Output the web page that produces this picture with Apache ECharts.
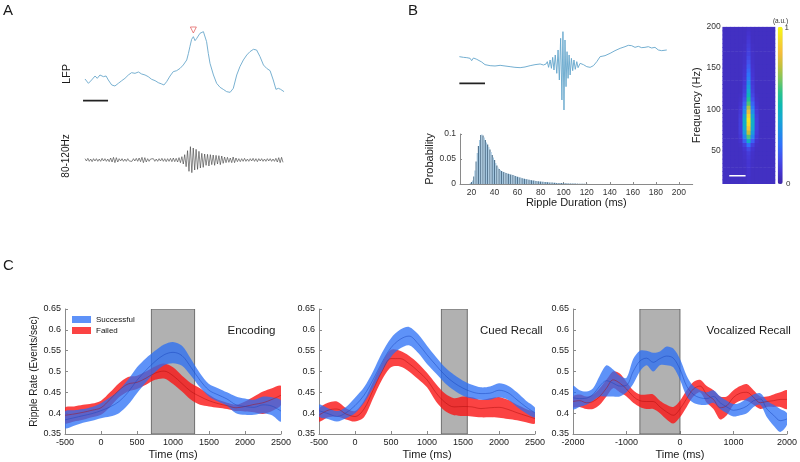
<!DOCTYPE html>
<html>
<head>
<meta charset="utf-8">
<script src="https://cdn.jsdelivr.net/npm/echarts/dist/echarts.min.js"></script>
<style>html,body{margin:0;padding:0;background:#fff}#chart{width:800px;height:462px}</style>
</head>
<body>
<div id="chart"></div>
<script>
// ---------------- Panel A ----------------
const lfpT = [0,14,27,41,50,61,75,86,95,109,122,136,150,163,177,190,204,218,231,245,258,272,286,299,313,322,333,347,360,374,388,401,415,422,428,435,442,449,456,462,469,476,483,490,496,503,510,524,537,551,564,578,592,605,619,632,646,660,673,687,694,700,714,728,741,755,768,779,789,798,812];
const lfpV = [43,30,40,52,45,55,50,52,40,25,22,30,38,45,55,62,60,64,58,55,50,42,38,32,28,25,35,52,65,68,75,85,100,120,140,162,170,158,165,172,180,182,185,180,155,120,90,55,30,18,12,5,3,15,55,80,100,115,125,132,138,130,110,85,75,68,40,12,15,12,5];
const rippleMarkT = [442];
const rippleMarkV = [190];
const scaleBarA_T = [-8, 94];
const scaleBarA_V = -22;
const filtV = [4,-3,5,-4,3,-5,4,-3,4,-4,
  3,-4,5,-3,4,-4,3,-5,6,-6,
  8,-8,7,-6,4,-3,4,-4,3,-4,
  4,-3,3,-4,4,-3,5,-4,6,-5,
  8,-8,7,-6,4,-4,3,-3,4,-4,
  3,-4,4,-3,5,-4,4,-5,4,-4,
  5,-5,6,-5,5,-6,7,-8,10,-12,
  16,-20,28,-34,40,-38,36,-30,32,-28,
  26,-24,20,-22,18,-16,17,-18,16,-14,
  15,-16,14,-12,13,-14,12,-10,9,-8,
  8,-7,6,-8,9,-8,6,-5,4,-5,
  4,-4,5,-4,3,-4,4,-3,5,-4,
  4,-5,4,-3,4,-4,3,-4,4,-3,
  4,-4,3,-4,5,-6,7,-8,8,-7];

// ---------------- Panel B ----------------
const trBT = [0,16,29,42,48,55,68,87,100,120,139,159,178,198,217,237,256,276,295,315,328,338,343,348,354,359,364,369,374,380,385,390,395,400,404,408,412,416,420,424,428,432,437,442,447,452,458,463,471,484,497,510,523,536,549,568,588,607,627,646,659,672,685,698,711,724,737,750,763,767,776,789,809];
const trBV = [30,28,27,25,18,26,22,14,6,3,2,4,2,0,-2,-3,-1,3,6,8,5,8,15,-2,20,-5,28,-10,35,-20,50,-40,85,-100,105,-130,80,-60,45,-35,35,-25,25,-12,20,-8,15,-3,10,6,0,-2,3,15,30,33,40,48,55,60,64,63,58,61,57,58,60,56,58,62,50,48,50];
const scaleBarB_T = [0, 100];
const scaleBarB_V = -50;

const histStart = 19, histBinWidth = 1;
const histP = [0.002,0.004,0.007,0.015,0.027,0.045,0.062,0.076,0.088,0.098,
  0.099,0.097,0.093,0.088,0.083,0.079,0.074,0.069,0.064,0.058,
  0.053,0.048,0.042,0.037,0.033,0.030,0.028,0.026,0.025,0.024,
  0.023,0.022,0.021,0.0205,0.020,0.019,0.0185,0.018,0.017,0.016,
  0.0152,0.0145,0.0138,0.013,0.0123,0.0117,0.011,0.0105,0.010,0.0095,
  0.009,0.0085,0.008,0.0076,0.0072,0.0068,0.0064,0.006,0.0057,0.0054,
  0.0051,0.0048,0.0046,0.0044,0.0042,0.004,0.0038,0.0036,0.0034,0.0032,
  0.003,0.0028,0.0027,0.0025,0.0024,0.0022,0.0021,0.002,0.0019,0.0018,
  0.0017,0.0016,0.0015,0.0014,0.0013,0.0012,0.0011,0.001,0.001,0.0009,
  0.0009,0.0008,0.0007,0.0007,0.0006,0.0006,0.0005,0.0005,0.0004,0.0004,
  0.0003,0.0003];
const histTicks = [20,40,60,80,100,120,140,160,180,200];

const hmTimes = [-148,-123,-98,-74,-49,-25,0,25,49,74,98,123,148];
const hmFreqs = [12.5,17.5,22.5,27.5,32.5,37.5,42.5,47.5,52.5,57.5,62.5,67.5,72.5,77.5,82.5,87.5,92.5,97.5,102.5,107.5,112.5,117.5,122.5,127.5,132.5,137.5,142.5,147.5,152.5,157.5,162.5,167.5,172.5,177.5,182.5,187.5,192.5,197.5];
const hmRows = [
 [.05,.05,.05,.05,.05,.05,.06,.05,.05,.05,.05,.05,.05],
 [.05,.05,.05,.05,.05,.05,.06,.05,.05,.05,.05,.05,.05],
 [.05,.05,.05,.05,.05,.05,.07,.05,.05,.05,.05,.05,.05],
 [.05,.05,.05,.05,.05,.05,.07,.05,.05,.05,.05,.05,.05],
 [.05,.05,.05,.05,.05,.055,.08,.055,.05,.05,.05,.05,.05],
 [.05,.05,.05,.05,.05,.055,.08,.055,.05,.05,.05,.05,.05],
 [.05,.05,.05,.05,.05,.06,.09,.06,.05,.05,.05,.05,.05],
 [.05,.05,.05,.05,.05,.065,.10,.065,.05,.05,.05,.05,.05],
 [.05,.05,.05,.05,.05,.075,.14,.075,.05,.05,.05,.05,.05],
 [.05,.05,.05,.05,.055,.11,.25,.11,.055,.05,.05,.05,.05],
 [.05,.05,.05,.05,.07,.20,.45,.20,.07,.05,.05,.05,.05],
 [.05,.05,.05,.05,.085,.30,.62,.30,.085,.05,.05,.05,.05],
 [.05,.05,.05,.05,.10,.37,.75,.37,.10,.05,.05,.05,.05],
 [.05,.05,.05,.05,.11,.42,.85,.42,.11,.05,.05,.05,.05],
 [.05,.05,.05,.05,.11,.44,.92,.44,.11,.05,.05,.05,.05],
 [.05,.05,.05,.05,.11,.44,.94,.44,.11,.05,.05,.05,.05],
 [.05,.05,.05,.05,.10,.40,.90,.40,.10,.05,.05,.05,.05],
 [.05,.05,.05,.05,.09,.33,.82,.33,.09,.05,.05,.05,.05],
 [.05,.05,.05,.05,.08,.27,.72,.27,.08,.05,.05,.05,.05],
 [.05,.05,.05,.05,.07,.21,.62,.21,.07,.05,.05,.05,.05],
 [.05,.05,.05,.05,.06,.16,.55,.16,.06,.05,.05,.05,.05],
 [.05,.05,.05,.05,.055,.13,.48,.13,.055,.05,.05,.05,.05],
 [.05,.05,.05,.05,.05,.11,.42,.11,.05,.05,.05,.05,.05],
 [.05,.05,.05,.05,.05,.10,.37,.10,.05,.05,.05,.05,.05],
 [.05,.05,.05,.05,.05,.09,.32,.09,.05,.05,.05,.05,.05],
 [.05,.05,.05,.05,.05,.085,.28,.085,.05,.05,.05,.05,.05],
 [.05,.05,.05,.05,.05,.08,.25,.08,.05,.05,.05,.05,.05],
 [.05,.05,.05,.05,.05,.075,.22,.075,.05,.05,.05,.05,.05],
 [.05,.05,.05,.05,.05,.07,.19,.07,.05,.05,.05,.05,.05],
 [.05,.05,.05,.05,.05,.065,.16,.065,.05,.05,.05,.05,.05],
 [.05,.05,.05,.05,.05,.06,.14,.06,.05,.05,.05,.05,.05],
 [.05,.05,.05,.05,.05,.06,.12,.06,.05,.05,.05,.05,.05],
 [.05,.05,.05,.05,.05,.055,.11,.055,.05,.05,.05,.05,.05],
 [.05,.05,.05,.05,.05,.055,.10,.055,.05,.05,.05,.05,.05],
 [.05,.05,.05,.05,.05,.05,.09,.05,.05,.05,.05,.05,.05],
 [.05,.05,.05,.05,.05,.05,.08,.05,.05,.05,.05,.05,.05],
 [.05,.05,.05,.05,.05,.05,.07,.05,.05,.05,.05,.05,.05],
 [.05,.05,.05,.05,.05,.05,.06,.05,.05,.05,.05,.05,.05]
];
const hmFreqTicks = [50,100,150,200];
const hmScaleBarT = [-120, -20];
const hmScaleBarF = 20;
const colorbarLabels = ['1', '0', '(a.u.)'];

// ---------------- Panel C ----------------
const tC12 = [-500,-375,-250,-125,0,125,250,375,500,625,750,875,1000,1125,1250,1375,1500,1625,1750,1875,2000,2125,2250,2375,2500];
const encSucUp   = [0.404,0.407,0.41,0.415,0.424,0.438,0.455,0.48,0.51,0.532,0.55,0.565,0.571,0.562,0.53,0.496,0.47,0.46,0.45,0.44,0.435,0.432,0.44,0.438,0.43];
const encSucLo   = [0.364,0.37,0.377,0.382,0.388,0.392,0.40,0.42,0.448,0.474,0.498,0.515,0.52,0.514,0.49,0.462,0.44,0.428,0.418,0.40,0.396,0.396,0.40,0.395,0.38];
const encSucMean = [0.384,0.389,0.394,0.399,0.406,0.415,0.428,0.45,0.479,0.503,0.524,0.54,0.546,0.538,0.51,0.479,0.455,0.444,0.434,0.42,0.416,0.414,0.42,0.417,0.405];
const encFailUp  = [0.413,0.416,0.42,0.423,0.43,0.45,0.472,0.487,0.49,0.50,0.512,0.519,0.51,0.49,0.472,0.46,0.444,0.432,0.425,0.42,0.428,0.44,0.452,0.46,0.465];
const encFailLo  = [0.376,0.38,0.384,0.39,0.396,0.415,0.438,0.452,0.458,0.468,0.48,0.483,0.47,0.452,0.432,0.42,0.416,0.413,0.41,0.405,0.404,0.402,0.398,0.405,0.42];
const encFailMean= [0.395,0.398,0.402,0.407,0.413,0.433,0.455,0.47,0.474,0.484,0.496,0.501,0.49,0.471,0.452,0.44,0.43,0.423,0.418,0.413,0.416,0.421,0.425,0.433,0.443];

const cueSucUp   = [0.42,0.412,0.405,0.415,0.437,0.462,0.50,0.545,0.58,0.60,0.607,0.59,0.562,0.535,0.51,0.492,0.478,0.468,0.462,0.464,0.472,0.466,0.45,0.43,0.413];
const cueSucLo   = [0.392,0.386,0.38,0.388,0.40,0.425,0.46,0.50,0.535,0.555,0.563,0.545,0.518,0.495,0.472,0.455,0.442,0.435,0.432,0.432,0.438,0.432,0.415,0.40,0.39];
const cueSucMean = [0.406,0.399,0.392,0.401,0.418,0.443,0.48,0.522,0.557,0.577,0.585,0.567,0.54,0.515,0.491,0.473,0.46,0.451,0.447,0.448,0.455,0.449,0.432,0.415,0.401];
const cueFailUp  = [0.41,0.425,0.428,0.412,0.405,0.43,0.475,0.52,0.552,0.55,0.538,0.52,0.497,0.47,0.447,0.436,0.44,0.438,0.432,0.436,0.439,0.432,0.42,0.41,0.40];
const cueFailLo  = [0.38,0.39,0.392,0.385,0.38,0.39,0.435,0.48,0.51,0.512,0.50,0.482,0.462,0.428,0.405,0.395,0.393,0.392,0.39,0.39,0.389,0.386,0.383,0.378,0.375];
const cueFailMean= [0.395,0.407,0.41,0.398,0.392,0.41,0.455,0.5,0.531,0.531,0.519,0.501,0.48,0.449,0.426,0.415,0.416,0.415,0.411,0.413,0.414,0.409,0.401,0.394,0.387];

const tC3 = [-2000,-1875,-1750,-1625,-1500,-1375,-1250,-1125,-1000,-875,-750,-625,-500,-375,-250,-125,0,125,250,375,500,625,750,875,1000,1125,1250,1375,1500,1625,1750,1875,2000];
const vocSucUp   = [0.465,0.455,0.452,0.46,0.49,0.515,0.505,0.49,0.485,0.53,0.55,0.55,0.545,0.548,0.56,0.555,0.53,0.49,0.465,0.455,0.45,0.455,0.44,0.43,0.422,0.425,0.435,0.445,0.448,0.43,0.42,0.41,0.40];
const vocSucLo   = [0.41,0.415,0.42,0.43,0.44,0.44,0.44,0.44,0.45,0.47,0.50,0.515,0.50,0.515,0.515,0.51,0.48,0.44,0.425,0.42,0.42,0.425,0.41,0.40,0.392,0.395,0.40,0.415,0.42,0.39,0.37,0.355,0.372];
const vocSucMean = [0.437,0.435,0.436,0.445,0.465,0.478,0.472,0.465,0.467,0.5,0.525,0.532,0.522,0.531,0.537,0.532,0.505,0.465,0.445,0.437,0.435,0.44,0.425,0.415,0.407,0.41,0.417,0.43,0.434,0.41,0.395,0.382,0.386];
const vocFailUp  = [0.44,0.445,0.44,0.445,0.46,0.48,0.50,0.495,0.475,0.455,0.445,0.445,0.445,0.43,0.42,0.415,0.43,0.455,0.475,0.48,0.465,0.455,0.44,0.44,0.455,0.465,0.47,0.455,0.44,0.44,0.445,0.45,0.455];
const vocFailLo  = [0.415,0.415,0.41,0.41,0.42,0.44,0.46,0.45,0.44,0.425,0.415,0.41,0.41,0.40,0.385,0.375,0.39,0.415,0.44,0.45,0.425,0.41,0.385,0.395,0.42,0.43,0.43,0.42,0.41,0.415,0.415,0.415,0.41];
const vocFailMean= [0.428,0.43,0.425,0.428,0.44,0.46,0.48,0.472,0.458,0.44,0.43,0.428,0.428,0.415,0.403,0.395,0.41,0.435,0.458,0.465,0.445,0.433,0.413,0.418,0.438,0.448,0.45,0.438,0.425,0.428,0.43,0.433,0.433];

const eventWindows = [[700,1300],[1200,1560],[-750,0]];
const condTitles = ['Encoding','Cued Recall','Vocalized Recall'];
const legendNames = ['Successful','Failed'];
const rateRange = [0.35, 0.65];

// ---------------- build ----------------
const FONT = '"Liberation Sans", Arial, Helvetica, sans-serif';
const axisCol = '#8a8a8a';
const txtCol = '#1a1a1a';
const BLUE = 'rgba(40,110,245,0.75)';
const RED = 'rgba(250,20,20,0.8)';
const BLUE_LINE = 'rgba(25,70,190,0.7)';
const RED_LINE = 'rgba(170,10,10,0.65)';
const parula = ['#3e26a8','#4536d4','#4352ef','#2f72fb','#1e90e8','#14a9d2','#0cbab2','#2cc38a','#7ec65e','#c4c13c','#f6bd3a','#f5da2b','#f9fb0e'];
const plain = v => String(v);

const grids = [
  {left:80.1, top:28.33, width:205.9, height:75},
  {left:85, top:140, width:198, height:40},
  {left:456.8, top:30, width:212.8, height:83.33},
  {left:460, top:134, width:232.7, height:50},
  {left:722.7, top:26.7, width:52.3, height:157.3},
  {left:65, top:309, width:216, height:125},
  {left:319, top:309, width:216, height:125},
  {left:573, top:309, width:215, height:125}
];

function hid(gi, type, min, max) {
  return {type, gridIndex:gi, min, max, show:false, splitLine:{show:false}};
}
function cX(gi, min, max, interval) {
  return {type:'value', gridIndex:gi, min, max, interval,
    axisLine:{show:true, onZero:false, lineStyle:{color:axisCol, width:1}},
    axisTick:{show:true, inside:true, length:3, lineStyle:{color:axisCol}},
    axisLabel:{fontSize:9, color:txtCol, margin:4, fontFamily:FONT, formatter:plain},
    splitLine:{show:false},
    name:'Time (ms)', nameLocation:'middle', nameGap:15,
    nameTextStyle:{fontSize:11, color:txtCol, fontFamily:FONT}};
}
function cY(gi, withName) {
  const a = {type:'value', gridIndex:gi, min:rateRange[0], max:rateRange[1], interval:0.05,
    axisLine:{show:true, onZero:false, lineStyle:{color:axisCol, width:1}},
    axisTick:{show:true, inside:true, length:3, lineStyle:{color:axisCol}},
    axisLabel:{fontSize:9, color:txtCol, margin:4, fontFamily:FONT},
    splitLine:{show:false}};
  if (withName) {
    a.name = 'Ripple Rate (Events/sec)'; a.nameLocation = 'middle'; a.nameGap = 22;
    a.nameRotate = 90; a.nameTextStyle = {fontSize:10, color:txtCol, fontFamily:FONT};
  }
  return a;
}

const xAxes = [
  hid(0,'value',-20,820),
  {type:'category', gridIndex:1, show:false, boundaryGap:false, data: filtV.map((_, i) => i)},
  hid(2,'value',-10,820),
  {type:'value', gridIndex:3, min:10, max:212,
    axisLine:{show:true, lineStyle:{color:axisCol}},
    axisTick:{show:true, inside:true, length:2, customValues: histTicks, lineStyle:{color:axisCol}},
    axisLabel:{fontSize:8.5, color:'#333', margin:4, customValues: histTicks, fontFamily:FONT},
    splitLine:{show:false},
    name:'Ripple Duration (ms)', nameLocation:'middle', nameGap:13,
    nameTextStyle:{fontSize:11, color:txtCol, fontFamily:FONT}},
  {type:'category', gridIndex:4, show:false, data: hmTimes},
  hid(4,'value',-160,160),
  cX(5,-500,2500,500), cX(6,-500,2500,500), cX(7,-2000,2000,1000)
];
const yAxes = [
  hid(0,'value',-30,195),
  hid(1,'value',-60,60),
  hid(2,'value',-140,110),
  {type:'value', gridIndex:3, min:0, max:0.1, interval:0.05,
    axisLine:{show:true, lineStyle:{color:axisCol}},
    axisTick:{show:true, inside:true, length:2, lineStyle:{color:axisCol}},
    axisLabel:{fontSize:8.5, color:'#333', margin:4, fontFamily:FONT},
    splitLine:{show:false},
    name:'Probability', nameLocation:'middle', nameGap:20, nameRotate:90,
    nameTextStyle:{fontSize:11, color:txtCol, fontFamily:FONT}},
  {type:'category', gridIndex:4, show:false, data: hmFreqs},
  {type:'value', gridIndex:4, min:10, max:200, position:'left',
    axisLine:{show:false}, axisTick:{show:false}, splitLine:{show:false},
    axisLabel:{fontSize:8.5, color:'#333', margin:2, customValues: hmFreqTicks, fontFamily:FONT},
    name:'Frequency (Hz)', nameLocation:'middle', nameGap:16, nameRotate:90,
    nameTextStyle:{fontSize:11, color:txtCol, fontFamily:FONT}},
  cY(5,true), cY(6,false), cY(7,false)
];

const series = [];
series.push({type:'line', xAxisIndex:0, yAxisIndex:0, data: lfpT.map((t,i)=>[t, lfpV[i]]),
  symbol:'none', lineStyle:{color:'#6aa8cc', width:0.9}, silent:true});
series.push({type:'line', xAxisIndex:0, yAxisIndex:0, data: scaleBarA_T.map(t=>[t, scaleBarA_V]),
  symbol:'none', lineStyle:{color:'#222', width:1.6}, silent:true});
series.push({type:'scatter', xAxisIndex:0, yAxisIndex:0, data: rippleMarkT.map((t,i)=>[t, rippleMarkV[i]]),
  symbol:'triangle', symbolRotate:180, symbolSize:6,
  itemStyle:{color:'#ffffff', borderColor:'#e05555', borderWidth:0.9}, silent:true});
series.push({type:'line', xAxisIndex:1, yAxisIndex:1, data: filtV,
  symbol:'none', lineStyle:{color:'#3a3a3a', width:0.6}, silent:true});
series.push({type:'line', xAxisIndex:2, yAxisIndex:2, data: trBT.map((t,i)=>[t, trBV[i]]),
  symbol:'none', lineStyle:{color:'#64a6cc', width:0.9}, silent:true});
series.push({type:'line', xAxisIndex:2, yAxisIndex:2, data: scaleBarB_T.map(t=>[t, scaleBarB_V]),
  symbol:'none', lineStyle:{color:'#222', width:1.6}, silent:true});
series.push({type:'bar', xAxisIndex:3, yAxisIndex:3, barWidth:1.2,
  data: histP.map((p,i)=>[histStart + i*histBinWidth, p]),
  itemStyle:{color: p => (p.dataIndex % 2 ? '#52748f' : '#a3c7e1')}, silent:true});

const hmData = [];
hmRows.forEach((row, r) => row.forEach((v, c) => hmData.push([c, r, v])));
const hmIndex = series.length;
series.push({type:'custom', xAxisIndex:4, yAxisIndex:4, data: hmData, silent:true,
  encode:{x:0, y:1}, clip:true,
  renderItem: (params, api) => {
    const c = api.coord([api.value(0), api.value(1)]);
    const s = api.size([1, 1]);
    return {type:'rect', shape:{x:c[0]-s[0]/2-0.3, y:c[1]-s[1]/2-0.3, width:s[0]+0.6, height:s[1]+0.6},
      style:{fill: api.visual('color')}};
  }});
series.push({type:'line', xAxisIndex:5, yAxisIndex:5, data: hmScaleBarT.map(t=>[t, hmScaleBarF]),
  symbol:'none', lineStyle:{color:'#ffffff', width:1.6}, silent:true, z:5});

const cData = [
  {t:tC12, sUp:encSucUp, sLo:encSucLo, sM:encSucMean, fUp:encFailUp, fLo:encFailLo, fM:encFailMean},
  {t:tC12, sUp:cueSucUp, sLo:cueSucLo, sM:cueSucMean, fUp:cueFailUp, fLo:cueFailLo, fM:cueFailMean},
  {t:tC3,  sUp:vocSucUp, sLo:vocSucLo, sM:vocSucMean, fUp:vocFailUp, fLo:vocFailLo, fM:vocFailMean}
];
const SM = 0.35;
function bandSeries(ax, t, lo, up, fill, name) {
  return {type:'custom', name, xAxisIndex:ax, yAxisIndex:ax, z:3, silent:true, clip:true,
    data: t.map((x,i)=>[x, lo[i], up[i]]),
    encode:{x:0, y:[1,2]},
    itemStyle:{color:fill},
    renderItem: (params, api) => {
      if (params.dataIndex !== 0) return;
      const pts = [];
      for (let i = 0; i < t.length; i++) pts.push(api.coord([t[i], up[i]]));
      for (let i = t.length - 1; i >= 0; i--) pts.push(api.coord([t[i], lo[i]]));
      return {type:'polygon', shape:{points:pts, smooth:0.3}, style:{fill:fill}};
    }};
}
cData.forEach((d, k) => {
  const ax = 6 + k;
  series.push({type:'custom', xAxisIndex:ax, yAxisIndex:ax, z:1, silent:true, clip:true,
    data:[[eventWindows[k][0], eventWindows[k][1]]],
    encode:{x:[0,1]},
    renderItem: (params, api) => {
      const p0 = api.coord([api.value(0), rateRange[1]]);
      const p1 = api.coord([api.value(1), rateRange[0]]);
      return {type:'rect', shape:{x:p0[0], y:p0[1], width:p1[0]-p0[0], height:p1[1]-p0[1]},
        style:{fill:'#b1b1b1', stroke:'#555555', lineWidth:0.8}};
    }});
  series.push(bandSeries(ax, d.t, d.fLo, d.fUp, RED, k === 0 ? legendNames[1] : undefined));
  series.push(bandSeries(ax, d.t, d.sLo, d.sUp, BLUE, k === 0 ? legendNames[0] : undefined));
  series.push({type:'line', xAxisIndex:ax, yAxisIndex:ax, symbol:'none', smooth:SM,
    data: d.t.map((t,i)=>[t, d.fM[i]]), lineStyle:{color:RED_LINE, width:0.7}, silent:true, z:4});
  series.push({type:'line', xAxisIndex:ax, yAxisIndex:ax, symbol:'none', smooth:SM,
    data: d.t.map((t,i)=>[t, d.sM[i]]), lineStyle:{color:BLUE_LINE, width:0.7}, silent:true, z:4});
});

const txt = (text, x, y, size, opts) => Object.assign({type:'text', x, y, silent:true,
  style:Object.assign({text, fontSize:size, fill:txtCol, fontFamily:FONT, textAlign:'left', textVerticalAlign:'top'}, (opts && opts.style) || {})},
  (opts && opts.el) || {});

const graphic = [
  txt('A', 3, 3, 15),
  txt('B', 408, 3, 15),
  txt('C', 3, 258, 15),
  txt('LFP', 66.7, 74, 11, {style:{textAlign:'center', textVerticalAlign:'middle'}, el:{rotation:Math.PI/2}}),
  txt('80-120Hz', 66.7, 156, 10, {style:{textAlign:'center', textVerticalAlign:'middle'}, el:{rotation:Math.PI/2}}),
  txt(colorbarLabels[0], 784.5, 28, 8, {style:{textVerticalAlign:'middle', fill:'#333'}}),
  txt(colorbarLabels[1], 786, 184, 8, {style:{textVerticalAlign:'middle', fill:'#333'}}),
  txt(colorbarLabels[2], 780.5, 21, 6.5, {style:{textAlign:'center', textVerticalAlign:'middle', fill:'#333'}}),
  txt(condTitles[0], 275.5, 331, 11.5, {style:{textAlign:'right', textVerticalAlign:'middle'}}),
  txt(condTitles[1], 480, 331, 11.5, {style:{textVerticalAlign:'middle'}}),
  txt(condTitles[2], 706.5, 331, 11.5, {style:{textVerticalAlign:'middle'}})
];

const option = {
  animation:false,
  textStyle:{fontFamily:FONT},
  grid: grids,
  xAxis: xAxes,
  yAxis: yAxes,
  visualMap: [{type:'continuous', seriesIndex: hmIndex, dimension:2, min:0, max:1, left:777.7, top:26.7,
    itemWidth:5, itemHeight:157.3, orient:'vertical', calculable:false, text:null, padding:0,
    hoverLink:false, inRange:{color: parula}}],
  legend: {data:[
      {name:legendNames[0], icon:'rect', itemStyle:{color:BLUE}},
      {name:legendNames[1], icon:'rect', itemStyle:{color:RED}}],
    orient:'vertical', left:72, top:315, itemWidth:19, itemHeight:7, itemGap:2, padding:0,
    selectedMode:false, textStyle:{fontSize:8, color:'#111', fontFamily:FONT, lineHeight:9}},
  graphic: graphic,
  series: series
};
const chart = echarts.init(document.getElementById('chart'), null, {renderer:'canvas'});
chart.setOption(option);
</script>
</body>
</html>
